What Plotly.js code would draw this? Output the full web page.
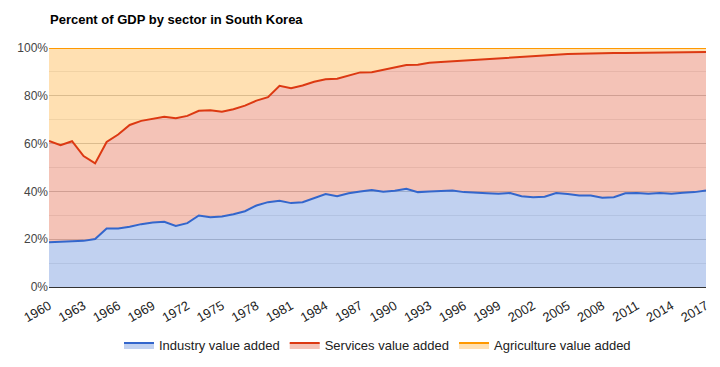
<!DOCTYPE html>
<html>
<head>
<meta charset="utf-8">
<script src="https://cdn.plot.ly/plotly-3.0.1.min.js"></script>
<style>html,body{margin:0;padding:0;background:#fff;}#chart{width:720px;height:367px;}</style>
</head>
<body>
<div id="chart"></div>
<script>
const years = [];
for (let y = 1960; y <= 2017; y++) years.push(y);

// Industry value added (% of GDP)
const industry = [18.7,19.0,19.3,19.3,20.1,24.5,24.5,25.2,26.3,27.0,
  27.3,25.5,26.7,29.9,29.2,29.5,30.4,31.7,34.1,35.5,
  36.1,35.1,35.5,37.2,38.9,38.0,39.2,40.0,40.6,39.9,
  40.3,41.1,39.7,40.0,40.1,40.4,39.7,39.6,39.2,39.0,
  39.3,38.0,37.6,37.8,39.3,38.9,38.3,38.3,37.3,37.6,
  39.2,39.3,39.0,39.3,39.0,39.4,39.7,40.4];

// Industry + services (cumulative top of services band)
const industryPlusServices = [61.1,59.3,61.0,54.8,51.7,60.7,63.8,67.8,69.5,70.2,
  71.2,70.6,71.6,73.7,74.0,73.3,74.4,75.9,78.0,79.4,
  84.2,83.2,84.3,85.9,86.9,87.1,88.5,89.8,89.9,90.9,
  91.9,92.9,93.0,93.8,94.1,94.4,94.8,95.2,95.5,95.8,
  95.9,96.4,96.6,97.1,97.2,97.5,97.6,97.8,97.9,97.9,
  97.9,98.0,98.0,98.2,98.2,98.3,98.5,98.3];

const services = industryPlusServices.map((v, i) => +(v - industry[i]).toFixed(1));
const agriculture = industryPlusServices.map(v => +(100 - v).toFixed(1));

const seriesNames = ['Industry value added', 'Services value added', 'Agriculture value added'];
const lineColors = ['#3366cc', '#dc3912', '#ff9900'];
const fillColors = ['rgba(51,102,204,0.3)', 'rgba(220,57,18,0.3)', 'rgba(255,153,0,0.3)'];
const seriesValues = [industry, services, agriculture];

const traces = seriesValues.map((vals, i) => ({
  x: years,
  y: vals,
  name: seriesNames[i],
  type: 'scatter',
  mode: 'lines',
  stackgroup: 'one',
  line: {color: lineColors[i], width: 2},
  fillcolor: fillColors[i],
  hoverinfo: 'x+y+name'
}));

const layout = {
  width: 720,
  height: 367,
  paper_bgcolor: '#ffffff',
  plot_bgcolor: '#ffffff',
  font: {family: 'Liberation Sans, Arial, sans-serif', size: 12, color: '#444'},
  margin: {l: 49, r: 14, t: 48, b: 80, autoexpand: false},
  title: {
    text: '<b>Percent of GDP by sector in South Korea</b>',
    font: {size: 13, color: '#000'},
    xref: 'container', yref: 'container',
    x: 50/720, xanchor: 'left',
    y: 1 - 19/367, yanchor: 'middle'
  },
  xaxis: {
    range: [1960, 2017],
    tick0: 1960,
    dtick: 3,
    tickangle: -30,
    showgrid: false,
    zeroline: false,
    showline: false,
    ticks: '',
    ticklabelstandoff: 8,
    automargin: false,
    tickfont: {size: 13, color: '#222'},
    fixedrange: true
  },
  yaxis: {
    range: [0, 100],
    dtick: 20,
    ticksuffix: '%',
    showgrid: true,
    gridcolor: '#cccccc',
    gridwidth: 1,
    minor: {dtick: 10, showgrid: true, gridcolor: '#ebebeb', gridwidth: 1},
    zeroline: true,
    zerolinecolor: '#333333',
    zerolinewidth: 1,
    showline: false,
    ticks: '',
    automargin: false,
    tickfont: {size: 12, color: '#444'},
    fixedrange: true
  },
  showlegend: true,
  legend: {
    orientation: 'h',
    x: 0.5, xanchor: 'center',
    y: -0.243, yanchor: 'middle',
    font: {size: 13, color: '#222'},
    traceorder: 'normal',
    itemwidth: 30
  },
  hovermode: 'closest'
};

Plotly.newPlot('chart', traces, layout, {displayModeBar: false});
</script>
</body>
</html>
